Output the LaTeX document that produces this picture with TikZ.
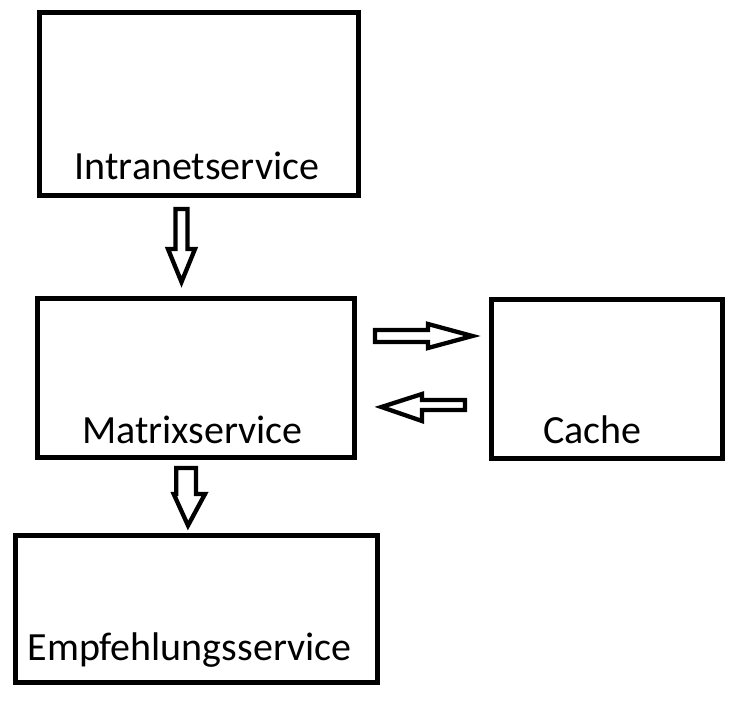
\documentclass[tikz,border=0pt]{standalone}
\usepackage{fontspec}
\setmainfont{Carlito}

\begin{document}
\begin{tikzpicture}[x=1pt,y=-1pt,
  box/.style={draw, line width=5pt, inner sep=0pt, outer sep=0pt},
  lbl/.style={anchor=base, inner sep=0pt, font=\fontsize{40}{48}\selectfont},
  blockarrow/.style={draw, line width=4.3pt, line join=miter}]

\useasboundingbox (0,0) rectangle (734,706);

% boxes
\node[box, minimum width=319, minimum height=183] (intranet) at (199,104) {};
\node[box, minimum width=317, minimum height=159] (matrix) at (196,378) {};
\node[box, minimum width=231, minimum height=159] (cache) at (607,379) {};
\node[box, minimum width=362, minimum height=147] (empf) at (196.5,609) {};

% labels
\node[lbl] (intranet-l) at (197,180) {Intranetservice};
\node[lbl] (matrix-l) at (192.5,443) {Matrixservice};
\node[lbl] (cache-l) at (592.5,443) {Cache};
\node[lbl] (empf-l) at (189.5,660) {Empfehlungsservice};

% arrows
\draw[blockarrow] (175.5,209) -- (187.5,209) -- (187.5,249) -- (195,249)
  -- (181.5,282) -- (168,249) -- (175.5,249) -- cycle;
\draw[blockarrow] (375,330) -- (428,330) -- (428,324) -- (472.4,336)
  -- (428,348) -- (428,342) -- (375,342) -- cycle;
\draw[blockarrow] (465,400) -- (422,400) -- (422,394) -- (381.4,407)
  -- (422,421) -- (422,410) -- (465,410) -- cycle;
\draw[blockarrow] (176.3,468) -- (196,468) -- (196,494) -- (205,494)
  -- (188,525.5) -- (173.7,494) -- (176.3,494) -- cycle;
\end{tikzpicture}
\end{document}
